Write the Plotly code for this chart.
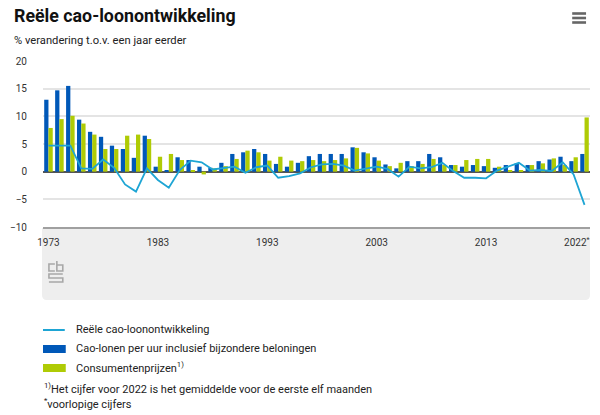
import plotly.graph_objects as go

years = list(range(1973, 2023))

cao_lonen = [13.0, 14.7, 15.5, 9.4, 7.2, 6.3, 4.7, 4.1, 2.5, 6.5,
             0.9, 0.2, 2.6, 2.1, 0.9, 0.7, 1.6, 3.2, 3.5, 4.1,
             3.2, 1.4, 0.9, 1.6, 2.8, 3.2, 3.2, 3.2, 4.4, 3.5,
             2.6, 1.3, 0.6, 1.9, 1.9, 3.2, 2.6, 1.2, 0.9, 1.2,
             1.0, 0.7, 1.2, 1.5, 1.2, 1.9, 2.2, 2.7, 1.9, 3.2]

consumentenprijzen = [7.9, 9.5, 10.1, 8.7, 6.7, 4.1, 4.1, 6.5, 6.7, 5.9,
                      2.7, 3.2, 2.1, 0.2, -0.5, 0.6, 1.0, 2.3, 3.8, 3.5,
                      2.0, 2.7, 2.0, 1.9, 2.1, 1.9, 2.1, 2.4, 4.3, 3.3,
                      2.0, 1.0, 1.6, 1.0, 1.4, 2.3, 1.2, 1.2, 2.1, 2.3,
                      2.3, 0.9, 0.2, 0.2, 1.2, 1.5, 2.4, 1.2, 2.6, 9.8]

reeel = [4.7, 4.7, 4.7, 0.6, 0.5, 2.2, 0.7, -2.3, -3.6, 0.6,
         -1.5, -2.9, 0.3, 2.0, 1.7, 0.4, 0.6, 0.9, -0.2, 0.8,
         1.1, -1.1, -0.8, -0.3, 0.8, 1.3, 1.4, 1.1, 0.2, 0.5,
         0.9, 0.5, -0.9, 0.9, 0.6, 0.8, 1.6, 0.1, -1.1, -1.1,
         -1.2, 0.2, 0.9, 1.6, 0.2, 0.3, 0.1, 1.7, -0.5, -6.0]

x_tickvals = [1973, 1983, 1993, 2003, 2013, 2021.3]
x_ticktext = ["1973", "1983", "1993", "2003", "2013", "2022<sup>*</sup>"]
y_tickvals = [-10, -5, 0, 5, 10, 15, 20]

name_line = "Reële cao-loonontwikkeling"
name_blue = "Cao-lonen per uur inclusief bijzondere beloningen"
name_green = "Consumentenprijzen<sup>1)</sup>"

C_LINE = "#1ea5d4"
C_BLUE = "#0058b8"
C_GREEN = "#afcb05"
FONT = "Roboto"

W, H = 600, 415
ML, MR, MT, MB = 37, 10, 61, 188
PW = W - ML - MR
PH = H - MT - MB


def px2x(px):
    return (px - ML) / PW


def py2y(py):
    return (H - MB - py) / PH


fig = go.Figure()
fig.add_trace(go.Bar(x=years, y=cao_lonen, name=name_blue, marker_color=C_BLUE,
                     marker_line_width=0, showlegend=False))
fig.add_trace(go.Bar(x=years, y=consumentenprijzen, name=name_green, marker_color=C_GREEN,
                     marker_line_width=0, showlegend=False))
fig.add_trace(go.Scatter(x=years, y=reeel, name=name_line, mode="lines",
                         line=dict(color=C_LINE, width=1.8), showlegend=False))

shapes = []
# grey panel under the axis
x0, x1 = px2x(36), px2x(590)
y0, y1 = py2y(228), py2y(300)
rx, ry = 5 / PW, 5 / PH
path = (f"M {x0},{y0} L {x1},{y0} L {x1},{y1 + ry} Q {x1},{y1} {x1 - rx},{y1} "
        f"L {x0 + rx},{y1} Q {x0},{y1} {x0},{y1 + ry} Z")
shapes.append(dict(type="path", xref="paper", yref="paper", path=path,
                   fillcolor="#eeeeee", line=dict(width=0), layer="below"))


def pth(points):
    return "M " + " L ".join(f"{px2x(a)},{py2y(b)}" for a, b in points)


# CBS logo (simple outline)
logo_parts = [
    [(49, 264), (43, 264), (43, 271), (49, 271)],
    [(51, 261), (51, 271), (57, 271), (57, 265), (51, 265)],
    [(57, 274), (43, 274), (43, 278), (57, 278), (57, 282), (43, 282)],
]
for pts in logo_parts:
    shapes.append(dict(type="path", xref="paper", yref="paper", path=pth(pts),
                       line=dict(color="#a8a8a8", width=1.6)))

# hamburger menu icon
for py in (13.5, 18, 22.5):
    shapes.append(dict(type="line", xref="paper", yref="paper",
                       x0=px2x(572), x1=px2x(586), y0=py2y(py), y1=py2y(py),
                       line=dict(color="#666666", width=2.6)))

# legend symbols
shapes.append(dict(type="line", xref="paper", yref="paper",
                   x0=px2x(37), x1=px2x(59), y0=py2y(330), y1=py2y(330),
                   line=dict(color=C_LINE, width=2)))
shapes.append(dict(type="rect", xref="paper", yref="paper",
                   x0=px2x(37), x1=px2x(60), y0=py2y(345), y1=py2y(353),
                   fillcolor=C_BLUE, line=dict(width=0)))
shapes.append(dict(type="rect", xref="paper", yref="paper",
                   x0=px2x(37), x1=px2x(60), y0=py2y(364), y1=py2y(372),
                   fillcolor=C_GREEN, line=dict(width=0)))

annotations = []


def txt(text, px, py, size=11, color="#222222", xanchor="left"):
    annotations.append(dict(text=text, xref="paper", yref="paper", x=px2x(px), y=py2y(py),
                            xanchor=xanchor, yanchor="middle", showarrow=False,
                            font=dict(family=FONT, size=size, color=color)))


txt("<b>Reële cao-loonontwikkeling</b>", 6, 16, size=17.8, color="#111111")
txt("% verandering t.o.v. een jaar eerder", 6, 40, size=11.2, color="#222222")
txt(name_line, 68, 329)
txt(name_blue, 68, 348)
txt(name_green, 68, 367)
txt("<sup>1)</sup>Het cijfer voor 2022 is het gemiddelde voor de eerste elf maanden", 36, 388, size=11)
txt("<sup>*</sup>voorlopige cijfers", 36, 403, size=11)

fig.update_layout(
    width=W, height=H,
    margin=dict(l=ML, r=MR, t=MT, b=MB, pad=0),
    paper_bgcolor="white", plot_bgcolor="white",
    barmode="group", bargap=0.22, bargroupgap=0.0,
    font=dict(family=FONT, size=10, color="#333333"),
    shapes=shapes, annotations=annotations,
    xaxis=dict(range=[1972.5, 2022.5], tickvals=x_tickvals, ticktext=x_ticktext,
               showgrid=False, zeroline=False, showline=True, linecolor="#a0a0a0",
               linewidth=2, ticks="", ticklabelstandoff=5,
               tickfont=dict(family=FONT, size=10, color="#333333")),
    yaxis=dict(range=[-10, 20], tickvals=y_tickvals, showgrid=True, gridcolor="#e4e4e4",
               gridwidth=1.5, zeroline=True, zerolinecolor="#555555", zerolinewidth=2,
               ticks="", ticklabelstandoff=15,
               tickfont=dict(family=FONT, size=10, color="#333333")),
)

fig.write_html("out.html", config={"displayModeBar": False},
               post_script="document.body.style.margin='0px';")
